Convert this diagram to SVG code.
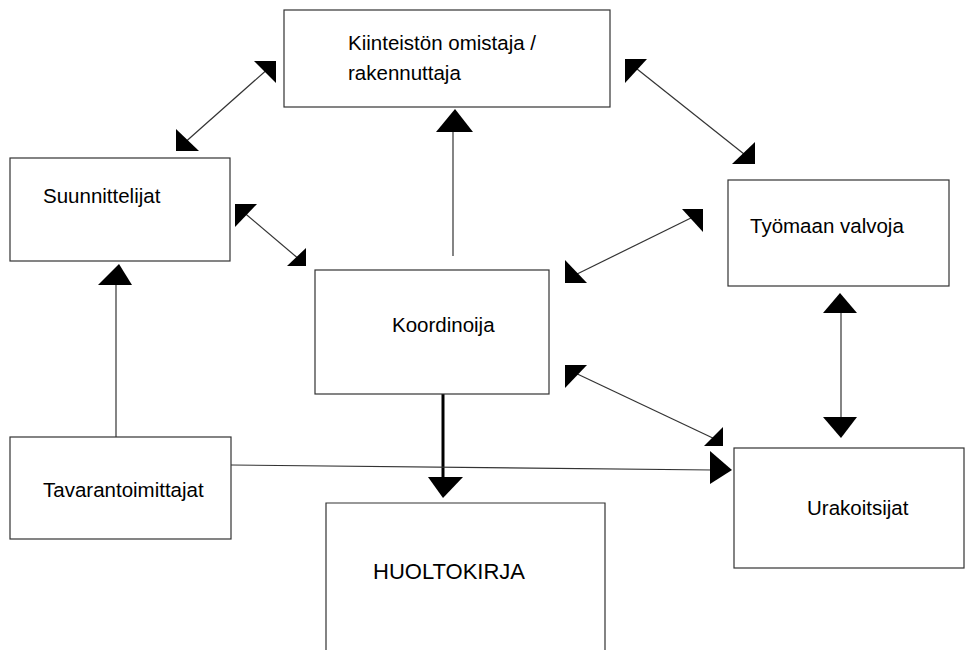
<svg xmlns="http://www.w3.org/2000/svg" width="978" height="650" viewBox="0 0 978 650">
<style>
.box{fill:#fff;stroke:#333;stroke-width:1.2}
.t{font-family:"Liberation Sans",Arial,sans-serif;font-size:20.5px;fill:#000}
.big{font-size:22px}
.ln{stroke:#333;stroke-width:1.2;fill:none}
.hd{fill:#000;stroke:none}
</style>
<rect width="978" height="650" fill="#fff"/>
<g id="connectors">
  <line class="ln" x1="270" y1="67" x2="182" y2="145"/>
  <polygon class="hd" points="254,61 276,61 276,83"/>
  <polygon class="hd" points="176,129 176,151 199,151"/>
  <line class="ln" x1="632" y1="65" x2="749" y2="158"/>
  <polygon class="hd" points="625,59 647,59 625,83"/>
  <polygon class="hd" points="755,142 755,164 732,164"/>
  <line class="ln" x1="241" y1="210" x2="300" y2="260"/>
  <polygon class="hd" points="235,204 257,204 235,227"/>
  <polygon class="hd" points="306,248 306,266 287,266"/>
  <line class="ln" x1="697" y1="215" x2="571" y2="277"/>
  <polygon class="hd" points="682,209 703,209 703,232"/>
  <polygon class="hd" points="565,260 565,283 587,283"/>
  <line class="ln" x1="571" y1="371" x2="717" y2="440"/>
  <polygon class="hd" points="565,365 587,365 565,388"/>
  <polygon class="hd" points="723,427 723,446 704,446"/>
  <line class="ln" x1="453" y1="256" x2="453" y2="130"/>
  <polygon class="hd" points="455,109 436,132 473,132"/>
  <line x1="443" y1="394" x2="443" y2="480" stroke="#000" stroke-width="3"/>
  <polygon class="hd" points="428,477 463,477 443,498"/>
  <line class="ln" x1="116" y1="437" x2="116" y2="282"/>
  <polygon class="hd" points="119,264 98,285 132,285"/>
  <line class="ln" x1="841" y1="310" x2="841" y2="420"/>
  <polygon class="hd" points="840,293 823,313 857,313"/>
  <polygon class="hd" points="823,417 857,417 841,438"/>
  <line class="ln" x1="231" y1="465" x2="713" y2="470"/>
  <polygon class="hd" points="710,451 710,484 732,470"/>
</g>
<g id="node-omistaja">
  <rect class="box" x="284" y="10" width="326" height="97"/>
  <text class="t" x="348" y="50">Kiinteistön omistaja /</text>
  <text class="t" x="348" y="80">rakennuttaja</text>
</g>
<g id="node-suunnittelijat">
  <rect class="box" x="10" y="158" width="220" height="103"/>
  <text class="t" x="43" y="203">Suunnittelijat</text>
</g>
<g id="node-valvoja">
  <rect class="box" x="728" y="180" width="221" height="106"/>
  <text class="t" x="750" y="233">Työmaan valvoja</text>
</g>
<g id="node-koordinoija">
  <rect class="box" x="315" y="270" width="234" height="124"/>
  <text class="t" x="392" y="332">Koordinoija</text>
</g>
<g id="node-tavarantoimittajat">
  <rect class="box" x="10" y="437" width="221" height="102"/>
  <text class="t" x="43" y="497">Tavarantoimittajat</text>
</g>
<g id="node-urakoitsijat">
  <rect class="box" x="734" y="448" width="230" height="120"/>
  <text class="t" x="807" y="515">Urakoitsijat</text>
</g>
<g id="node-huoltokirja">
  <path class="box" d="M326,651 V503 H605 V651"/>
  <text class="t big" x="373" y="579">HUOLTOKIRJA</text>
</g>
</svg>
